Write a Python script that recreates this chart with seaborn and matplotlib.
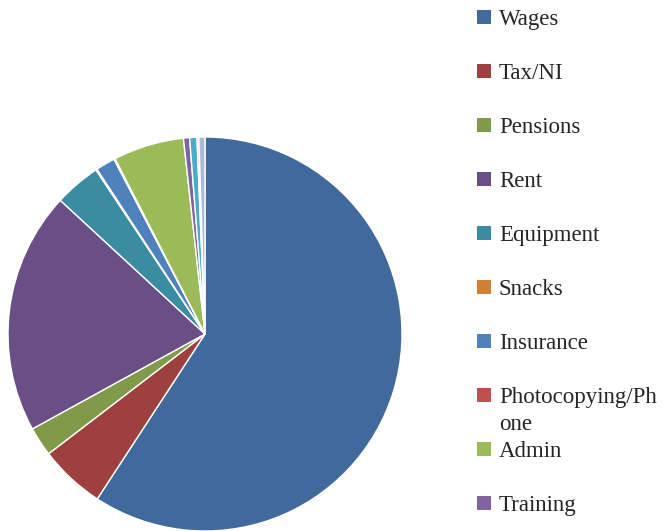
import matplotlib
matplotlib.use("Agg")
import matplotlib.pyplot as plt
import seaborn as sns
from matplotlib.patches import Patch

# Spending breakdown (percent of total)
categories = ['Wages', 'Tax/NI', 'Pensions', 'Rent', 'Equipment', 'Snacks',
              'Insurance', 'Photocopying/Phone', 'Admin', 'Training',
              'Cleaning', 'Travel', 'Other']
shares = [59.3, 5.4, 2.4, 19.9, 3.8, 0.1, 1.6, 0.1, 5.8, 0.5, 0.6, 0.15, 0.5]
colours = ['#40699c', '#9e413e', '#7f9a48', '#6a4f86', '#3a8da0', '#d17e37',
           '#4f81bd', '#c0504d', '#9bbb59', '#8064a2', '#4bacc6', '#f79646',
           '#aabad7']

sns.set_theme(style='white')
plt.rcParams['font.family'] = ['Liberation Serif', 'DejaVu Serif']
palette = sns.color_palette(colours)

fig = plt.figure(figsize=(6.72, 5.31), dpi=100)
ax = fig.add_axes([8 / 672, 0.0, 394 / 672, 394 / 531])
ax.pie(shares, colors=palette, startangle=90, counterclock=False,
       wedgeprops={'edgecolor': 'white', 'linewidth': 1.0})
ax.set_xlim(-1, 1)
ax.set_ylim(-1, 1)
ax.set_aspect('equal')

# only the first ten legend entries fit in the chart area
n_shown = 10
legend_labels = [c if c != 'Photocopying/Phone' else 'Photocopying/Ph'
                 for c in categories[:n_shown]]
handles = [Patch(facecolor=c, edgecolor='none') for c in palette[:n_shown]]
leg = fig.legend(handles, legend_labels, loc='upper left',
                 bbox_to_anchor=(477 / 672, 1 - 9 / 531),
                 frameon=False, fontsize=16.5, handlelength=0.61, handleheight=0.61,
                 handletextpad=0.35, labelspacing=1.44, borderaxespad=0,
                 borderpad=0)

fig.canvas.draw()
bb = leg.get_texts()[7].get_window_extent()
fig.text(bb.x0 / 672, (bb.y0 - 27) / 531, 'one', fontsize=16.5, ha='left', va='bottom')

fig.savefig('out.png', dpi=100)
